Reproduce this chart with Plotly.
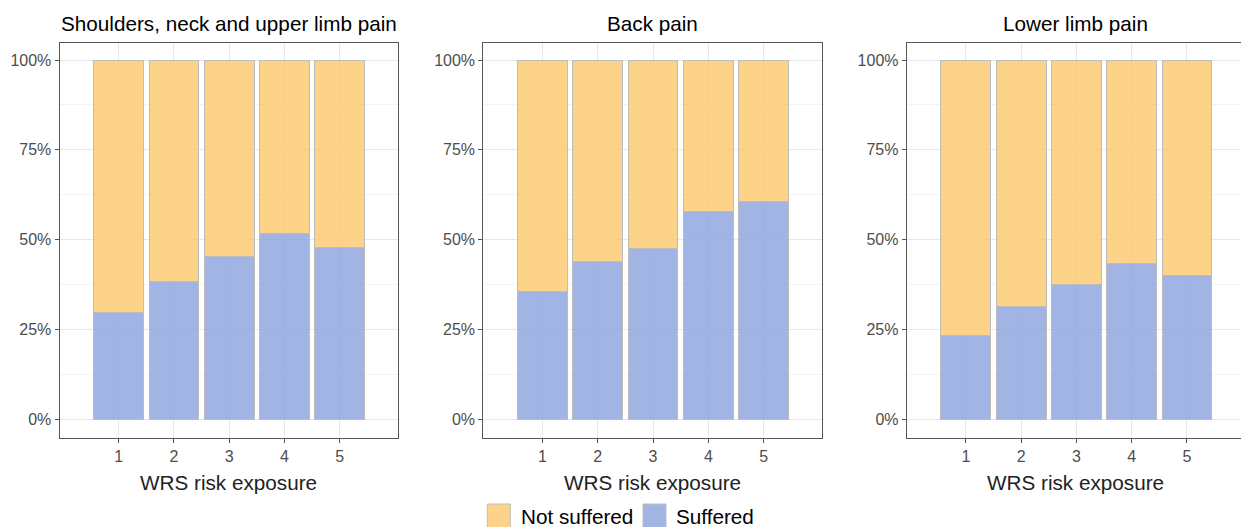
import plotly.graph_objects as go

# The page body adds an 8px margin, so the figure is sized/positioned to compensate.
OFF = 8
W, H = 1249 - OFF, 527 - OFF

categories = [1, 2, 3, 4, 5]
panel_titles = ["Shoulders, neck and upper limb pain", "Back pain", "Lower limb pain"]
suffered_upper = [0.298, 0.382, 0.454, 0.518, 0.479]
suffered_back = [0.354, 0.440, 0.474, 0.579, 0.607]
suffered_lower = [0.234, 0.313, 0.375, 0.432, 0.399]
suffered_all = [suffered_upper, suffered_back, suffered_lower]
series_names = ["Not suffered", "Suffered"]
y_tickvals = [0, 0.25, 0.5, 0.75, 1.0]
y_ticktext = ["0%", "25%", "50%", "75%", "100%"]
x_axis_title = "WRS risk exposure"

col_not = "rgba(253,200,108,0.80)"
col_suf = "rgba(138,161,220,0.80)"
outline = "#bdbdbd"


def fx(p):
    return (p - OFF) / W


def fy(p):
    return 1 - (p - OFF) / H


# panel pixel extents (in screenshot pixels)
px_x = [(59.5, 397.7), (483.3, 821.7), (906.7, 1245.0)]
px_top, px_bot = 43.3, 437.7

fig = go.Figure()
font_family = "Liberation Sans, Arial, sans-serif"

for i, suf in enumerate(suffered_all):
    not_suf = [1 - v for v in suf]
    xa = "x" if i == 0 else f"x{i+1}"
    ya = "y" if i == 0 else f"y{i+1}"
    fig.add_trace(go.Bar(x=categories, y=suf, name=series_names[1],
                         marker=dict(color=col_suf, line=dict(color=outline, width=1)),
                         width=0.9, xaxis=xa, yaxis=ya, showlegend=False))
    fig.add_trace(go.Bar(x=categories, y=not_suf, name=series_names[0],
                         marker=dict(color=col_not, line=dict(color=outline, width=1)),
                         width=0.9, xaxis=xa, yaxis=ya, showlegend=False))

layout = dict(
    width=W, height=H, barmode="stack", bargap=0.1,
    margin=dict(l=0, r=0, t=0, b=0),
    paper_bgcolor="white", plot_bgcolor="white",
    font=dict(family=font_family, color="#4d4d4d"),
    showlegend=False,
)
for i, (x0, x1) in enumerate(px_x):
    suffix = "" if i == 0 else str(i + 1)
    layout["xaxis" + suffix] = dict(
        domain=[max(fx(x0), 0), min(fx(x1), 1)], range=[-0.07, 6.05], anchor="y" + suffix,
        tickvals=categories, ticktext=[str(c) for c in categories],
        showline=True, linecolor="#555555", linewidth=1, mirror=True,
        ticks="outside", ticklen=4, tickcolor="#555555",
        showgrid=True, gridcolor="#e8e8e8", gridwidth=1,
        tickfont=dict(size=16, color="#4d4d4d"), zeroline=False, fixedrange=True,
    )
    layout["yaxis" + suffix] = dict(
        domain=[fy(px_bot), fy(px_top)], range=[-0.052, 1.0465], anchor="x" + suffix,
        tickvals=y_tickvals, ticktext=y_ticktext,
        showline=True, linecolor="#555555", linewidth=1, mirror=True,
        ticks="outside", ticklen=4, tickcolor="#555555",
        showgrid=True, gridcolor="#e8e8e8", gridwidth=1,
        minor=dict(dtick=0.125, showgrid=True, gridcolor="#f3f3f3", gridwidth=1, ticks=""),
        tickfont=dict(size=16, color="#4d4d4d"), zeroline=False, fixedrange=True,
    )
fig.update_layout(**layout)

annotations = []
for i, (x0, x1) in enumerate(px_x):
    cx = fx((x0 + x1) / 2)
    annotations.append(dict(text=panel_titles[i], x=cx, y=fy(24), xref="paper", yref="paper",
                            showarrow=False, xanchor="center", yanchor="middle",
                            font=dict(size=20.7, color="black", family=font_family)))
    annotations.append(dict(text=x_axis_title, x=cx, y=fy(482), xref="paper", yref="paper",
                            showarrow=False, xanchor="center", yanchor="middle",
                            font=dict(size=20.7, color="#222222", family=font_family)))

# legend drawn manually
legend_items = [(series_names[0], col_not, 487.3, 519), (series_names[1], col_suf, 643, 674)]
shapes = []
for name, col, bx, tx in legend_items:
    shapes.append(dict(type="rect", xref="paper", yref="paper", x0=fx(bx), x1=fx(bx + 23),
                       y0=fy(528), y1=fy(504), fillcolor=col, line=dict(color=outline, width=1)))
    annotations.append(dict(text=name, x=fx(tx), y=fy(516), xref="paper", yref="paper",
                            showarrow=False, xanchor="left", yanchor="middle",
                            font=dict(size=20.7, color="black", family=font_family)))
fig.update_layout(annotations=annotations, shapes=shapes)

fig.write_html("out.html")
